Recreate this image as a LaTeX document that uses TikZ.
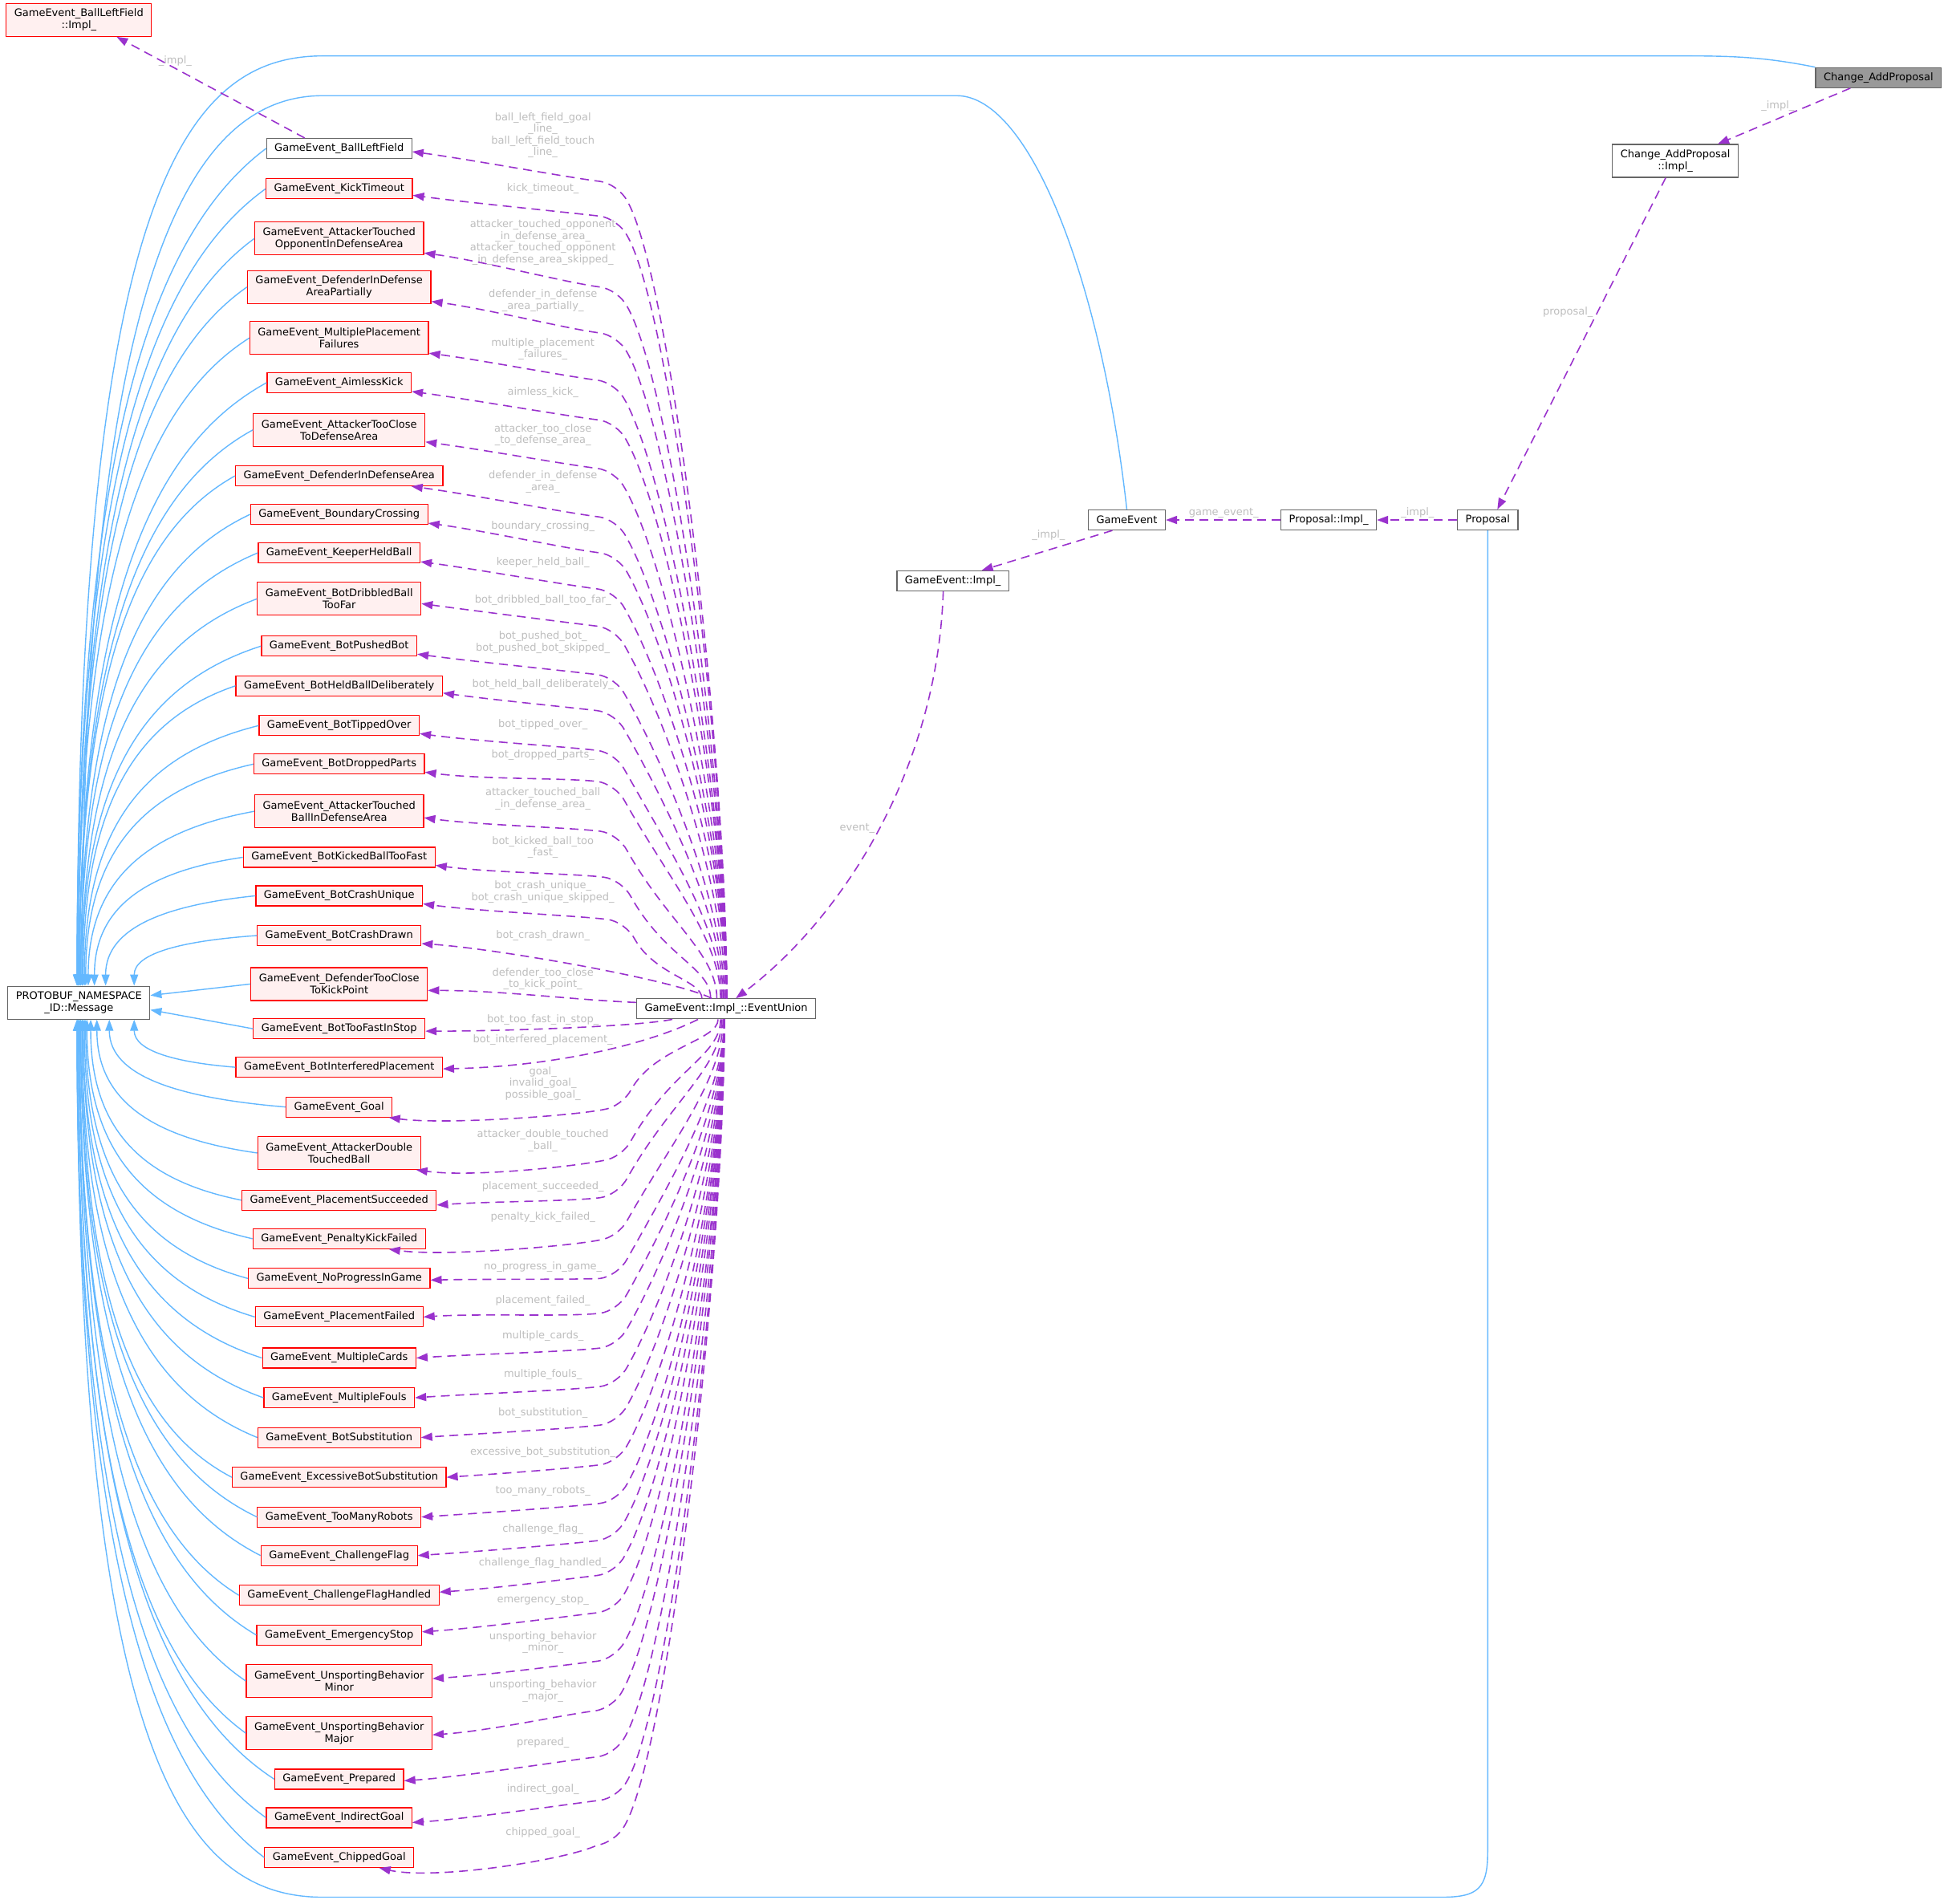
\documentclass[tikz,border=0pt]{standalone}
\usepackage{fontspec}
\setmainfont{DejaVu Sans}
\usetikzlibrary{arrows.meta,calc}
\definecolor{edgeblue}{HTML}{63B8FF}
\definecolor{edgepurple}{HTML}{9A32CD}
\definecolor{lblgray}{HTML}{BEBEBE}
\definecolor{boxgray}{HTML}{666666}
\definecolor{boxpink}{HTML}{FFF0F0}
\definecolor{curfill}{HTML}{999999}
\newcommand\nodefont{\fontsize{13pt}{15pt}\selectfont}
\newcommand\lblfont{\fontsize{13pt}{14.5pt}\selectfont}
\begin{document}
\begin{tikzpicture}[x=1.5485pt,y=-1.5485pt,
  cls/.style={draw=boxgray,fill=white,line width=1.2pt,font=\nodefont,text=black,inner xsep=10pt,inner ysep=2pt,minimum height=25pt,align=center},
  ucls/.style={cls,draw=red,fill=boxpink},
  cur/.style={cls,fill=curfill},
  two/.style={minimum height=41pt},
  lbl/.style={font=\lblfont,text=lblgray,align=center,inner sep=0pt},
  inh/.style={draw=edgeblue,line width=1.4pt,-{Triangle[length=14pt,width=10pt]}},
  dep/.style={draw=edgepurple,line width=1.6pt,dash pattern=on 11pt off 7pt,-{Triangle[length=14pt,width=10pt]}}]
\useasboundingbox[fill=white] (0,0) rectangle (1568,1532);

% ---- nodes
\node[ucls,two] (blfi) at (63.5,16) {GameEvent\_BallLeftField\\::Impl\_};
\node[cls,two] (msg) at (63.5,807) {PROTOBUF\_NAMESPACE\\\_ID::Message};
\node[cls] (eu) at (584.5,812) {GameEvent::Impl\_::EventUnion};
\node[cls] (gei) at (767,467.5) {GameEvent::Impl\_};
\node[cls] (ge) at (907,418.5) {GameEvent};
\node[cls] (pimpl) at (1069.5,418.5) {Proposal::Impl\_};
\node[cls] (prop) at (1197.5,418.5) {Proposal};
\node[cls,two] (capi) at (1348.5,129.5) {Change\_AddProposal\\::Impl\_};
\node[cur] (cap) at (1512,62.5) {Change\_AddProposal};

\node[cls] (n1) at (273,119.5) {GameEvent\_BallLeftField};
\node[ucls] (n2) at (273,152) {GameEvent\_KickTimeout};
\node[ucls,two] (n3) at (273,192) {GameEvent\_AttackerTouched\\OpponentInDefenseArea};
\node[ucls,two] (n4) at (273,231) {GameEvent\_DefenderInDefense\\AreaPartially};
\node[ucls,two] (n5) at (273,272) {GameEvent\_MultiplePlacement\\Failures};
\node[ucls] (n6) at (273,308) {GameEvent\_AimlessKick};
\node[ucls,two] (n7) at (273,346) {GameEvent\_AttackerTooClose\\ToDefenseArea};
\node[ucls] (n8) at (273,383) {GameEvent\_DefenderInDefenseArea};
\node[ucls] (n9) at (273,414) {GameEvent\_BoundaryCrossing};
\node[ucls] (n10) at (273,445) {GameEvent\_KeeperHeldBall};
\node[ucls,two] (n11) at (273,482) {GameEvent\_BotDribbledBall\\TooFar};
\node[ucls] (n12) at (273,520) {GameEvent\_BotPushedBot};
\node[ucls] (n13) at (273,552) {GameEvent\_BotHeldBallDeliberately};
\node[ucls] (n14) at (273,584) {GameEvent\_BotTippedOver};
\node[ucls] (n15) at (273,615) {GameEvent\_BotDroppedParts};
\node[ucls,two] (n16) at (273,653) {GameEvent\_AttackerTouched\\BallInDefenseArea};
\node[ucls] (n17) at (273,690) {GameEvent\_BotKickedBallTooFast};
\node[ucls] (n18) at (273,721) {GameEvent\_BotCrashUnique};
\node[ucls] (n19) at (273,753) {GameEvent\_BotCrashDrawn};
\node[ucls,two] (n20) at (273,792) {GameEvent\_DefenderTooClose\\ToKickPoint};
\node[ucls] (n21) at (273,828) {GameEvent\_BotTooFastInStop};
\node[ucls] (n22) at (273,859) {GameEvent\_BotInterferedPlacement};
\node[ucls] (n23) at (273,891) {GameEvent\_Goal};
\node[ucls,two] (n24) at (273,928) {GameEvent\_AttackerDouble\\TouchedBall};
\node[ucls] (n25) at (273,966) {GameEvent\_PlacementSucceeded};
\node[ucls] (n26) at (273,997) {GameEvent\_PenaltyKickFailed};
\node[ucls] (n27) at (273,1029) {GameEvent\_NoProgressInGame};
\node[ucls] (n28) at (273,1060) {GameEvent\_PlacementFailed};
\node[ucls] (n29) at (273,1093) {GameEvent\_MultipleCards};
\node[ucls] (n30) at (273,1125) {GameEvent\_MultipleFouls};
\node[ucls] (n31) at (273,1157) {GameEvent\_BotSubstitution};
\node[ucls] (n32) at (273,1189) {GameEvent\_ExcessiveBotSubstitution};
\node[ucls] (n33) at (273,1221) {GameEvent\_TooManyRobots};
\node[ucls] (n34) at (273,1252) {GameEvent\_ChallengeFlag};
\node[ucls] (n35) at (273,1284) {GameEvent\_ChallengeFlagHandled};
\node[ucls] (n36) at (273,1316) {GameEvent\_EmergencyStop};
\node[ucls,two] (n37) at (273,1353) {GameEvent\_UnsportingBehavior\\Minor};
\node[ucls,two] (n38) at (273,1395) {GameEvent\_UnsportingBehavior\\Major};
\node[ucls] (n39) at (273,1432) {GameEvent\_Prepared};
\node[ucls] (n40) at (273,1463) {GameEvent\_IndirectGoal};
\node[ucls] (n41) at (273,1495) {GameEvent\_ChippedGoal};

% ---- edge labels
\node[lbl] (l1) at (437,109) {ball\_left\_field\_goal\\\_line\_\\ball\_left\_field\_touch\\\_line\_};
\node[lbl] (l2) at (437,152) {kick\_timeout\_};
\node[lbl] (l3) at (437,195) {attacker\_touched\_opponent\\\_in\_defense\_area\_\\attacker\_touched\_opponent\\\_in\_defense\_area\_skipped\_};
\node[lbl] (l4) at (437,242) {defender\_in\_defense\\\_area\_partially\_};
\node[lbl] (l5) at (437,281) {multiple\_placement\\\_failures\_};
\node[lbl] (l6) at (437,316) {aimless\_kick\_};
\node[lbl] (l7) at (437,350) {attacker\_too\_close\\\_to\_defense\_area\_};
\node[lbl] (l8) at (437,388) {defender\_in\_defense\\\_area\_};
\node[lbl] (l9) at (437,424) {boundary\_crossing\_};
\node[lbl] (l10) at (437,453) {keeper\_held\_ball\_};
\node[lbl] (l11) at (437,483) {bot\_dribbled\_ball\_too\_far\_};
\node[lbl] (l12) at (437,517) {bot\_pushed\_bot\_\\bot\_pushed\_bot\_skipped\_};
\node[lbl] (l13) at (437,551) {bot\_held\_ball\_deliberately\_};
\node[lbl] (l14) at (437,583) {bot\_tipped\_over\_};
\node[lbl] (l15) at (437,608) {bot\_dropped\_parts\_};
\node[lbl] (l16) at (437,643) {attacker\_touched\_ball\\\_in\_defense\_area\_};
\node[lbl] (l17) at (437,682) {bot\_kicked\_ball\_too\\\_fast\_};
\node[lbl] (l18) at (437,718) {bot\_crash\_unique\_\\bot\_crash\_unique\_skipped\_};
\node[lbl] (l19) at (437,753) {bot\_crash\_drawn\_};
\node[lbl] (l20) at (437,788) {defender\_too\_close\\\_to\_kick\_point\_};
\node[lbl] (l21) at (437,821) {bot\_too\_fast\_in\_stop\_};
\node[lbl] (l22) at (437,837) {bot\_interfered\_placement\_};
\node[lbl] (l23) at (437,872) {goal\_\\invalid\_goal\_\\possible\_goal\_};
\node[lbl] (l24) at (437,918) {attacker\_double\_touched\\\_ball\_};
\node[lbl] (l25) at (437,955) {placement\_succeeded\_};
\node[lbl] (l26) at (437,980) {penalty\_kick\_failed\_};
\node[lbl] (l27) at (437,1020) {no\_progress\_in\_game\_};
\node[lbl] (l28) at (437,1047) {placement\_failed\_};
\node[lbl] (l29) at (437,1075) {multiple\_cards\_};
\node[lbl] (l30) at (437,1106) {multiple\_fouls\_};
\node[lbl] (l31) at (437,1137) {bot\_substitution\_};
\node[lbl] (l32) at (437,1169) {excessive\_bot\_substitution\_};
\node[lbl] (l33) at (437,1200) {too\_many\_robots\_};
\node[lbl] (l34) at (437,1231) {challenge\_flag\_};
\node[lbl] (l35) at (437,1258) {challenge\_flag\_handled\_};
\node[lbl] (l36) at (437,1288) {emergency\_stop\_};
\node[lbl] (l37) at (437,1322) {unsporting\_behavior\\\_minor\_};
\node[lbl] (l38) at (437,1361) {unsporting\_behavior\\\_major\_};
\node[lbl] (l39) at (437,1403) {prepared\_};
\node[lbl] (l40) at (437,1440) {indirect\_goal\_};
\node[lbl] (l41) at (437,1475) {chipped\_goal\_};

\node[lbl] (la) at (141,49) {\_impl\_};
\node[lbl] (lb) at (1431,85) {\_impl\_};
\node[lbl] (lc) at (1262,251) {proposal\_};
\node[lbl] (ld) at (985,413) {game\_event\_};
\node[lbl] (le) at (1141,413) {\_impl\_};
\node[lbl] (lf) at (844,431) {\_impl\_};
\node[lbl] (lg) at (690,667) {event\_};

% ---- waypoints of the long inheritance edges
\coordinate (cA) at (1356,45);
\coordinate (cB) at (260,45);
\coordinate (gA) at (770,77);
\coordinate (gB) at (260,77);
\coordinate (pA) at (1197.5,1490);
\coordinate (pB) at (1160,1527);
\coordinate (pC) at (260,1527);

% ---- inheritance edges (blue)
\foreach \i/\xw/\yi/\ax in {1/212/119.5/62,2/210/152/62,3/200/192/63,4/197/231/63,5/200/272/63,6/212/308/64,7/200/346/64,8/187/383/64,9/200/414/65,10/206/445/65,11/205/482/66,12/208/520/66,13/186/552/67,14/208/584/68,15/202/615/69,16/200/653/71,17/194/690/76,18/203/721/85,19/205/753/108}{
  \pgfmathsetmacro\ddx{\xw-\ax}
  \pgfmathsetmacro\ddy{794-\yi}
  \pgfmathsetmacro\xs{(\ax-63.5)*1.5485}
  \draw[inh] (n\i.west) .. controls +(-0.6*\ddx,0.1*\ddy) and +(0,-0.65*\ddy) .. ([xshift=\xs pt]msg.north);
}
\foreach \i/\xw/\yi/\ax in {22/188/859/108,23/229/891/88,24/205/928/78,25/194/966/73,26/200/997/70,27/197/1029/69,28/203/1060/68,29/208/1093/67,30/210/1125/67,31/204/1157/66,32/184/1189/66,33/204/1221/65,34/207/1252/65,35/190/1284/64,36/204/1316/64,37/196/1353/64,38/196/1395/63,39/219/1432/63,40/212/1463/62,41/210/1495/62}{
  \pgfmathsetmacro\ddx{\xw-\ax}
  \pgfmathsetmacro\ddy{\yi-820}
  \pgfmathsetmacro\xs{(\ax-63.5)*1.5485}
  \draw[inh] (n\i.west) .. controls +(-0.6*\ddx,-0.1*\ddy) and +(0,0.65*\ddy) .. ([xshift=\xs pt]msg.south);
}
\draw[inh] (n20.west) -- ([yshift=9pt]msg.east);
\draw[inh] (n21.west) -- ([yshift=-9pt]msg.east);
\draw[inh] (cap.north west) .. controls +(-40,-8) and +(40,0) .. (cA) -- (cB) .. controls +(-110,0) and +(0,-640) .. ([xshift=-2pt]msg.north);
\draw[inh] (ge.north) .. controls +(-20,-180) and +(60,0) .. (gA) -- (gB) .. controls +(-100,0) and +(0,-594) .. ([xshift=4pt]msg.north);
\draw[inh] (prop.south) -- (pA) .. controls +(0,30) and +(30,0) .. (pB) -- (pC) .. controls +(-110,0) and +(0,597) .. ([xshift=-2pt]msg.south);

% ---- member edges (purple, dashed)
\foreach \i/\sx/\kx/\ky/\anc/\tx/\ty in {1/585/497/148/east/0/-4,2/585/497/176/east/0/-8,3/585/497/233/east/0/-18,4/585/497/270/east/0/-18,5/585/495/308/east/0/-19,6/585/496/340/east/0/-11,7/585/495/379/east/0/-15,8/585/496/418/south/90/0,9/585/497/447/east/0/-11,10/585/495/476/east/0/-11,11/584/495/506/east/0/-6,12/583/495/545/east/0/-10,13/582/495/574/east/0/-9,14/581/495/606/east/0/-10,15/580/495/631/east/0/-10,16/577/497/671/east/0/-8,17/572/500/708/east/0/-10,18/565/503/742/east/0/-10}{
  \pgfmathsetmacro\xs{(\sx-584.5)*1.5485}
  \pgfmathsetmacro\aax{\kx+8}
  \pgfmathsetmacro\aay{\ky+14}
  \pgfmathsetmacro\bbx{\kx-14}
  \pgfmathsetmacro\bby{\ky-2}
  \pgfmathsetmacro\dd{804-\aay}
  \pgfmathsetmacro\gg{\sx-\aax}
  \pgfmathsetmacro\ff{min(1,0.75*\dd/\gg)}
  \draw[dep] ([xshift=\xs pt]eu.north) .. controls +(0,-0.3*\dd) and +(0.45*\gg*\ff,0.8*\gg*\ff) .. (\aax,\aay) .. controls +(-4,-8) and +(8,1) .. (\bbx,\bby) .. controls +(-25,-3) and +(45,6) .. ([xshift=\tx pt,yshift=\ty pt]n\i.\anc);
}
\foreach \i/\sx/\kx/\ky/\anc/\tx/\ty/\cb/\ce in {23/578/500/891/south/62/0/5/6,24/580/500/932/south/96/0/5/6,25/581/497/962/east/0/-6/3/-3,26/582/497/996/south/62/0/5/6,27/583/497/1027/east/0/-2/1/-1,28/583/497/1055/east/0/0/3/-3,29/583/497/1083/east/0/0/3/-3,30/583/497/1114/east/0/0/3/-3,31/583/497/1145/east/0/0/3/-3,32/583/497/1177/east/0/0/3/-3,33/583/497/1208/east/0/0/3/-3,34/583/495/1238/east/0/0/3/-3,35/583/495/1266/east/0/4/3/-3,36/583/495/1296/east/0/4/3/-3,37/583/495/1335/east/0/3/3/-3,38/583/493/1375/east/0/-2/3/-3,39/583/495/1412/east/0/-2/3/-3,40/583/497/1447/east/0/-6/3/-3,41/583/495/1483/south/50/0/12/10}{
  \pgfmathsetmacro\xs{(\sx-584.5)*1.5485}
  \pgfmathsetmacro\aax{\kx+8}
  \pgfmathsetmacro\aay{\ky-14}
  \pgfmathsetmacro\bbx{\kx-14}
  \pgfmathsetmacro\bby{\ky+2}
  \pgfmathsetmacro\dd{\aay-820}
  \pgfmathsetmacro\gg{\sx-\aax}
  \pgfmathsetmacro\ff{min(1,0.75*\dd/\gg)}
  \draw[dep] ([xshift=\xs pt]eu.south) .. controls +(0,0.3*\dd) and +(0.45*\gg*\ff,-0.8*\gg*\ff) .. (\aax,\aay) .. controls +(-4,8) and +(8,-1) .. (\bbx,\bby) .. controls +(-25,\cb) and +(45,\ce) .. ([xshift=\tx pt,yshift=\ty pt]n\i.\anc);
}
\draw[dep] ([xshift=-18pt]eu.north) .. controls +(-30,-15) and +(60,4) .. ([yshift=-10pt]n19.east);
\draw[dep] ([yshift=8pt]eu.west) .. controls +(-50,-2) and +(60,0) .. ([yshift=-8pt]n20.east);
\draw[dep] ([xshift=-67pt]eu.south) .. controls +(-30,6) and +(60,0) .. ([yshift=-3pt]n21.east);
\draw[dep] ([xshift=-35pt]eu.south) .. controls +(-40,20) and +(90,-2) .. ([yshift=-2pt]n22.east);

\draw[dep] ([xshift=-43pt]n1.north) -- ([xshift=47pt]blfi.south);
\draw[dep] ([xshift=-35pt]cap.south) -- ([xshift=53pt]capi.north);
\draw[dep] ([xshift=-12pt]capi.south) -- ([xshift=12pt]prop.north);
\draw[dep] (prop.west) -- (pimpl.east);
\draw[dep] (pimpl.west) -- (ge.east);
\draw[dep] ([xshift=-18pt]ge.south) -- ([xshift=36pt]gei.north);
\draw[dep] ([xshift=-12pt]gei.south) .. controls +(-5,150) and +(80,-60) .. ([xshift=12pt]eu.north);
\end{tikzpicture}
\end{document}
